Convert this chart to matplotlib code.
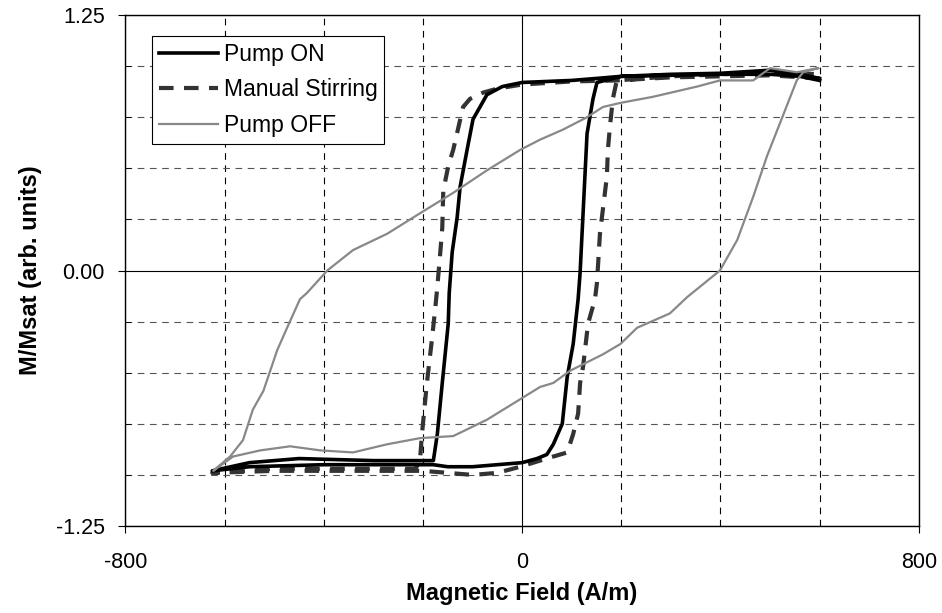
import matplotlib
matplotlib.use('Agg')
import matplotlib.pyplot as plt
from matplotlib.ticker import MultipleLocator, FormatStrFormatter

plt.rcParams['font.family'] = ['Liberation Sans', 'DejaVu Sans']
plt.rcParams['axes.unicode_minus'] = False

# 各曲线沿回线走一圈：上支从右往左，下支从左往右
pump_on_h = [600, 560, 500, 400, 300, 200, 151, 100, 0, -40, -71,
             -99, -111, -125, -131, -141, -147, -149, -161, -171, -179,
             -300, -450, -550, -625,
             -550, -400, -250, -179, -150, -100, 0, 30, 50, 63, 81, 91, 103, 113, 117,
             131, 143, 151, 200, 300, 400, 500, 560, 600]
pump_on_m = [0.93, 0.95, 0.96, 0.96, 0.955, 0.95, 0.94, 0.93, 0.92, 0.90, 0.86,
             0.74, 0.59, 0.41, 0.26, 0.09, -0.11, -0.26, -0.55, -0.80, -0.93,
             -0.93, -0.92, -0.94, -0.98,
             -0.96, -0.95, -0.95, -0.95, -0.96, -0.96, -0.94, -0.92, -0.90, -0.85, -0.75, -0.52, -0.36, -0.14, -0.01,
             0.67, 0.84, 0.92, 0.95, 0.96, 0.965, 0.98, 0.96, 0.94]

manual_h = [600, 500, 400, 300, 191, 100, 0, -50, -79, -105, -119,
            -139, -149, -159, -161, -165, -171, -175, -182, -192, -202, -206, -215,
            -350, -500, -625,
            -500, -300, -200, -100, -50, -4, 63, 91, 103, 113, 117, 123, 133, 147,
            151, 157, 171, 173, 177, 183, 191, 300, 400, 500, 600]
manual_m = [0.94, 0.955, 0.95, 0.945, 0.93, 0.925, 0.91, 0.89, 0.87, 0.84, 0.80,
            0.59, 0.51, 0.39, 0.21, 0.09, -0.08, -0.18, -0.34, -0.55, -0.80, -0.93, -0.97,
            -0.97, -0.97, -0.99,
            -0.98, -0.98, -0.98, -1.00, -0.99, -0.96, -0.91, -0.89, -0.80, -0.70, -0.55, -0.47, -0.26, -0.14,
            -0.06, 0.18, 0.46, 0.59, 0.70, 0.84, 0.93, 0.95, 0.96, 0.97, 0.96]

pump_off_h = [597, 554, 500, 466, 399, 353, 264, 198, 163, 131, 83, 36, -4, -71, -139, -206,
              -272, -341, -393, -434, -448, -474, -494, -522, -543, -563, -589, -623,
              -583, -528, -468, -407, -341, -272, -206, -139, -71, -4, 36, 63, 97, 163,
              198, 232, 298, 333, 399, 434, 466, 494, 520, 541, 554, 567, 597]
pump_off_m = [0.99, 0.97, 0.99, 0.93, 0.93, 0.90, 0.85, 0.82, 0.80, 0.75, 0.69, 0.64, 0.59, 0.49, 0.38, 0.28,
              0.18, 0.10, 0.00, -0.11, -0.14, -0.28, -0.39, -0.59, -0.68, -0.83, -0.91, -0.98,
              -0.91, -0.88, -0.86, -0.88, -0.89, -0.85, -0.82, -0.81, -0.73, -0.63, -0.57, -0.55, -0.49, -0.41,
              -0.36, -0.28, -0.21, -0.13, 0.00, 0.15, 0.36, 0.56, 0.72, 0.85, 0.93, 0.97, 0.99]

fig = plt.figure(figsize=(9.42, 6.13), dpi=100)
ax = fig.add_axes([0.1332, 0.1419, 0.8421, 0.8336])

ax.plot(pump_on_h, pump_on_m, color='black', lw=2.6, label='Pump ON', zorder=4)
ax.plot(manual_h, manual_m, color='#333333', lw=3.0, ls=(0, (3.5, 2.5)),
        label='Manual Stirring', zorder=3)
ax.plot(pump_off_h, pump_off_m, color='#888888', lw=1.6, label='Pump OFF', zorder=5)

ax.set_xlim(-800, 800)
ax.set_ylim(-1.25, 1.25)
ax.xaxis.set_major_locator(MultipleLocator(800))
ax.xaxis.set_minor_locator(MultipleLocator(200))
ax.yaxis.set_major_locator(MultipleLocator(1.25))
ax.yaxis.set_minor_locator(MultipleLocator(0.25))
ax.yaxis.set_major_formatter(FormatStrFormatter('%.2f'))

# 网格：主网格实线，次网格虚线
ax.grid(which='major', color='black', lw=0.8, ls='-')
ax.xaxis.grid(which='minor', color='black', lw=0.8, ls=(0, (6, 5)))
ax.yaxis.grid(which='minor', color='#555555', lw=0.8, ls=(0, (6, 5)))
ax.set_axisbelow(True)

ax.tick_params(axis='x', which='major', direction='out', length=5, pad=14, labelsize=15.5)
ax.tick_params(axis='x', which='minor', length=0)
ax.tick_params(axis='y', which='major', direction='out', length=5, pad=10, labelsize=15.5)
ax.tick_params(axis='y', which='minor', direction='in', length=4)
for s in ax.spines.values():
    s.set_color('black')
    s.set_linewidth(1.0)

ax.set_xlabel('Magnetic Field (A/m)', fontsize=17, fontweight='bold', labelpad=6)
ax.set_ylabel('M/Msat (arb. units)', fontsize=17, fontweight='bold', labelpad=10)

leg = ax.legend(loc='upper left', bbox_to_anchor=(0.033, 0.959), borderaxespad=0,
                fontsize=16.5, fancybox=False, edgecolor='black', framealpha=1,
                handlelength=2.6, handletextpad=0.25, labelspacing=0.55, borderpad=0.3)
leg.get_frame().set_linewidth(0.8)

plt.savefig('out.png', dpi=100)
